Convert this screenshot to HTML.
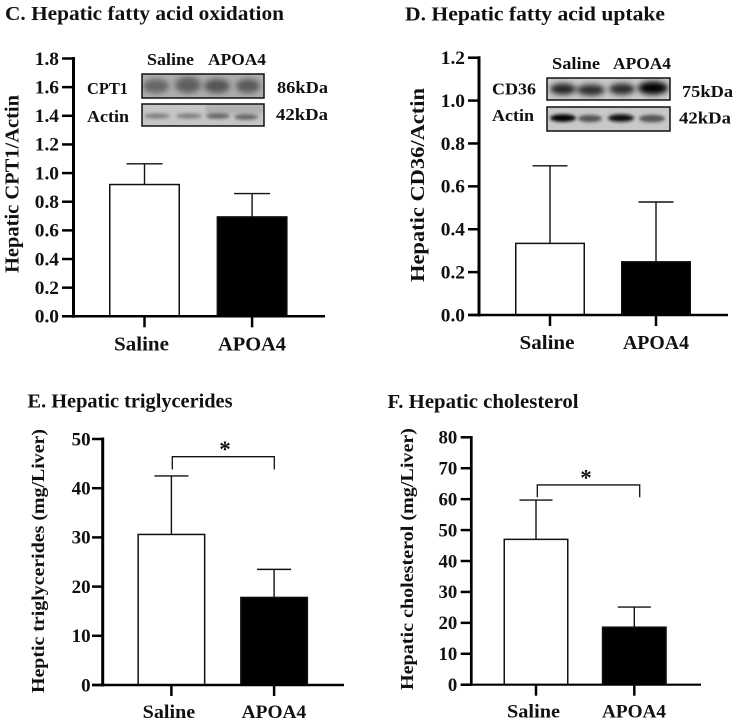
<!DOCTYPE html>
<html lang="en">
<head>
<meta charset="utf-8">
<title>Hepatic measurements, Saline vs APOA4</title>
<style>
html,body{margin:0;padding:0;background:#fff;}
svg{display:block;}
text{font-family:"Liberation Serif",serif;font-weight:bold;fill:#111;}
.title{font-size:19.5px;}
.small{font-size:16.5px;}
</style>
</head>
<body>
<svg id="figure" xmlns="http://www.w3.org/2000/svg" width="737" height="725" viewBox="0 0 737 725">
<defs>
<filter id="blurWide" x="-40%" y="-80%" width="180%" height="260%"><feGaussianBlur stdDeviation="3"/></filter>
<filter id="blurThin" x="-40%" y="-150%" width="180%" height="400%"><feGaussianBlur stdDeviation="1.6"/></filter>
<clipPath id="clipC1"><rect x="142" y="74" width="122" height="24"/></clipPath>
<clipPath id="clipC2"><rect x="142" y="104" width="122" height="22"/></clipPath>
<clipPath id="clipD1"><rect x="547" y="78" width="123" height="22"/></clipPath>
<clipPath id="clipD2"><rect x="547" y="107" width="123" height="24"/></clipPath>
</defs>
<rect x="0" y="0" width="737" height="725" fill="#fff"/>

<text class="title" x="5" y="20" textLength="279" lengthAdjust="spacingAndGlyphs">C. Hepatic fatty acid oxidation</text>
<text class="title" x="405" y="20.5" textLength="260" lengthAdjust="spacingAndGlyphs">D. Hepatic fatty acid uptake</text>
<text class="title" x="27.5" y="407.5" textLength="205" lengthAdjust="spacingAndGlyphs">E. Hepatic triglycerides</text>
<text class="title" x="387.5" y="408" textLength="191" lengthAdjust="spacingAndGlyphs">F. Hepatic cholesterol</text>

<!-- Panel C blot -->
<g>
<text class="small" x="147" y="65" textLength="47" lengthAdjust="spacingAndGlyphs">Saline</text>
<text class="small" x="208" y="65" textLength="58" lengthAdjust="spacingAndGlyphs">APOA4</text>
<text class="small" x="87" y="94" textLength="41" lengthAdjust="spacingAndGlyphs">CPT1</text>
<text class="small" x="87" y="122" textLength="42" lengthAdjust="spacingAndGlyphs">Actin</text>
<text class="small" x="277" y="93" textLength="51" lengthAdjust="spacingAndGlyphs">86kDa</text>
<text class="small" x="276" y="120" textLength="52" lengthAdjust="spacingAndGlyphs">42kDa</text>
<g clip-path="url(#clipC1)">
<rect x="142" y="74" width="122" height="24" fill="#adadad"/>
<g filter="url(#blurWide)">
<ellipse cx="156" cy="86" rx="13" ry="7" fill="#666"/><ellipse cx="188" cy="85" rx="13" ry="8" fill="#5e5e5e"/><ellipse cx="217" cy="86" rx="13" ry="7" fill="#555"/><ellipse cx="248" cy="86" rx="12" ry="7" fill="#5a5a5a"/>
</g>
</g>
<rect x="142" y="74" width="122" height="24" fill="none" stroke="#111" stroke-width="1.5"/>
<g clip-path="url(#clipC2)">
<rect x="142" y="104" width="122" height="22" fill="#c6c6c6"/>
<rect x="206" y="104" width="58" height="10" fill="#b0b0b0" filter="url(#blurThin)"/>
<g filter="url(#blurThin)">
<ellipse cx="157" cy="116" rx="13" ry="2.6" fill="#808080"/><ellipse cx="189" cy="116" rx="13" ry="2.6" fill="#808080"/><ellipse cx="218" cy="116" rx="12" ry="2.8" fill="#666"/><ellipse cx="246" cy="117" rx="12" ry="2.8" fill="#666"/>
</g>
</g>
<rect x="142" y="104" width="122" height="22" fill="none" stroke="#111" stroke-width="1.5"/>
</g>

<!-- Panel D blot -->
<g>
<text class="small" x="552" y="69" textLength="48" lengthAdjust="spacingAndGlyphs">Saline</text>
<text class="small" x="613" y="69" textLength="58" lengthAdjust="spacingAndGlyphs">APOA4</text>
<text class="small" x="492" y="94.5" textLength="44" lengthAdjust="spacingAndGlyphs">CD36</text>
<text class="small" x="492" y="121" textLength="42" lengthAdjust="spacingAndGlyphs">Actin</text>
<text class="small" x="682" y="97" textLength="51" lengthAdjust="spacingAndGlyphs">75kDa</text>
<text class="small" x="679" y="123.5" textLength="52" lengthAdjust="spacingAndGlyphs">42kDa</text>
<g clip-path="url(#clipD1)">
<rect x="547" y="78" width="123" height="22" fill="#cacaca"/>
<g filter="url(#blurWide)">
<ellipse cx="563" cy="89" rx="13" ry="5.5" fill="#222"/><ellipse cx="591" cy="90" rx="14" ry="5.5" fill="#2a2a2a"/><ellipse cx="622" cy="89" rx="13" ry="5.5" fill="#262626"/><ellipse cx="653" cy="88" rx="15" ry="6.5" fill="#000"/>
</g>
</g>
<rect x="547" y="78" width="123" height="22" fill="none" stroke="#111" stroke-width="1.5"/>
<g clip-path="url(#clipD2)">
<rect x="547" y="107" width="123" height="24" fill="#c8c8c8"/>
<g filter="url(#blurThin)">
<ellipse cx="563" cy="118" rx="13" ry="3.8" fill="#000"/><ellipse cx="590" cy="118.5" rx="12" ry="3.6" fill="#555"/><ellipse cx="621" cy="118" rx="13" ry="3.8" fill="#111"/><ellipse cx="652" cy="118.5" rx="13" ry="3.8" fill="#555"/>
</g>
</g>
<rect x="547" y="107" width="123" height="24" fill="none" stroke="#111" stroke-width="1.5"/>
</g>

<g id="charts"></g>
</svg>

<script>
// Shared category labels
const categories = ['Saline', 'APOA4'];

// Panel C: hepatic CPT1/Actin
const cTicks = [0, 0.2, 0.4, 0.6, 0.8, 1.0, 1.2, 1.4, 1.6, 1.8];
const cTickLabels = ['0.0', '0.2', '0.4', '0.6', '0.8', '1.0', '1.2', '1.4', '1.6', '1.8'];
const cMeans = [0.92, 0.694];
const cErrors = [0.145, 0.163];

// Panel D: hepatic CD36/Actin
const dTicks = [0, 0.2, 0.4, 0.6, 0.8, 1.0, 1.2];
const dTickLabels = ['0.0', '0.2', '0.4', '0.6', '0.8', '1.0', '1.2'];
const dMeans = [0.334, 0.248];
const dErrors = [0.362, 0.279];

// Panel E: hepatic triglycerides
const eTicks = [0, 10, 20, 30, 40, 50];
const eTickLabels = ['0', '10', '20', '30', '40', '50'];
const eMeans = [30.6, 17.8];
const eErrors = [11.9, 5.7];
const eBracket = [46.4, 43.8];

// Panel F: hepatic cholesterol
const fTicks = [0, 10, 20, 30, 40, 50, 60, 70, 80];
const fTickLabels = ['0', '10', '20', '30', '40', '50', '60', '70', '80'];
const fMeans = [47, 18.6];
const fErrors = [12.7, 6.5];
const fBracket = [64.6, 60.6];

const SVG_NS = 'http://www.w3.org/2000/svg';

function make(parent, tag, attrs, txt) {
  const el = document.createElementNS(SVG_NS, tag);
  for (const k in attrs) el.setAttribute(k, attrs[k]);
  if (txt !== undefined) el.textContent = txt;
  parent.appendChild(el);
  return el;
}

function drawPanel(cfg) {
  const root = document.getElementById('charts');
  const g = make(root, 'g', {});
  
  

  const maxV = cfg.ticks[cfg.ticks.length - 1];
  const yScale = v => cfg.y0 - (v / maxV) * (cfg.y0 - cfg.yTop);
  const xScale = i => cfg.x0 + i * cfg.step;

  // bars and error bars
  cfg.means.forEach((m, i) => {
    const cx = xScale(i);
    const top = yScale(m);
    const errTop = yScale(m + cfg.errors[i]);
    const dark = i === 1;

    const stem = make(g, 'line', {x1: cx, x2: cx, y1: top, y2: errTop, stroke: '#111', 'stroke-width': 1.4});
    
    

    const cap = make(g, 'line', {x1: cx - cfg.capHalf, x2: cx + cfg.capHalf, y1: errTop, y2: errTop, stroke: '#111', 'stroke-width': 1.4});
    
    

    const bar = make(g, 'rect', {
      x: cx - cfg.barW / 2 + 0.75, y: top, width: cfg.barW - 1.5, height: cfg.y0 - top,
      fill: dark ? '#000' : '#fff', stroke: '#111', 'stroke-width': 1.5
    });
    
    
  });

  // y axis
  const yAxis = make(g, 'line', {x1: cfg.axisX, x2: cfg.axisX, y1: cfg.yTop - cfg.axisW / 2, y2: cfg.y0 + cfg.axisW / 2, stroke: '#000', 'stroke-width': cfg.axisW});
  
  

  // x axis
  const xAxis = make(g, 'line', {x1: cfg.tickLeft, x2: cfg.xEnd, y1: cfg.y0, y2: cfg.y0, stroke: '#000', 'stroke-width': cfg.axisW - 0.5});
  
  

  // y ticks
  cfg.ticks.forEach((t, i) => {
    const y = yScale(t);
    const tick = make(g, 'line', {x1: cfg.tickLeft, x2: cfg.axisX, y1: y, y2: y, stroke: '#000', 'stroke-width': 2.5});
    
    

    const label = cfg.tickLabels[i];
    const digits = label.replace('.', '').length;
    const len = digits * cfg.digitW + (label.indexOf('.') >= 0 ? cfg.digitW * 0.55 : 0);
    const lab = make(g, 'text', {
      x: cfg.labelRight, y: y + 6.3, 'text-anchor': 'end', 'font-size': cfg.tickFont,
      textLength: len, lengthAdjust: 'spacingAndGlyphs'
    }, label);
    
    
  });

  // x ticks and labels
  categories.forEach((c, i) => {
    const cx = xScale(i);
    const tick = make(g, 'line', {x1: cx, x2: cx, y1: cfg.y0, y2: cfg.y0 + 11, stroke: '#000', 'stroke-width': 2.5});
    
    

    const lab = make(g, 'text', {
      x: cfg.catX[i], y: cfg.catY, 'font-size': cfg.catFont,
      textLength: cfg.catW[i], lengthAdjust: 'spacingAndGlyphs'
    }, c);
    
    
  });

  // y title
  const title = make(g, 'text', {
    transform: 'translate(' + cfg.yTitleX + ',' + cfg.yTitleBottom + ') rotate(-90)',
    'font-size': cfg.yTitleFont, textLength: cfg.yTitleLen, lengthAdjust: 'spacingAndGlyphs'
  }, cfg.yTitle);
  
  

  // significance bracket
  if (cfg.bracket) {
    const by = yScale(cfg.bracket[0]);
    const fy = yScale(cfg.bracket[1]);
    const bx = cfg.bracketX;
    const br = make(g, 'path', {
      d: 'M' + bx[0] + ' ' + fy + 'V' + by + 'H' + bx[1] + 'V' + fy,
      fill: 'none', stroke: '#111', 'stroke-width': 1.3
    });
    
    

    const star = make(g, 'text', {x: cfg.starX, y: by + 0.5, 'text-anchor': 'middle', 'font-size': 23}, '*');
    
    
  }
}

drawPanel({
  id: 'c', ticks: cTicks, tickLabels: cTickLabels, means: cMeans, errors: cErrors,
  y0: 316.3, yTop: 58.5, axisX: 73.5, axisW: 3, tickLeft: 62, xEnd: 325,
  x0: 144.5, step: 107.6, barW: 71, capHalf: 18,
  labelRight: 59, digitW: 9.5, tickFont: 19,
  catX: [114, 218], catY: 350.5, catW: [55, 68], catFont: 19.5,
  yTitle: 'Hepatic CPT1/Actin', yTitleX: 18.5, yTitleBottom: 273, yTitleLen: 178, yTitleFont: 19.5
});

drawPanel({
  id: 'd', ticks: dTicks, tickLabels: dTickLabels, means: dMeans, errors: dErrors,
  y0: 315, yTop: 57.7, axisX: 479, axisW: 3, tickLeft: 468, xEnd: 728,
  x0: 550, step: 106, barW: 70, capHalf: 17.5,
  labelRight: 465, digitW: 9.5, tickFont: 19,
  catX: [519.5, 623], catY: 349, catW: [55, 66], catFont: 19.5,
  yTitle: 'Hepatic CD36/Actin', yTitleX: 424, yTitleBottom: 282, yTitleLen: 194, yTitleFont: 20
});

drawPanel({
  id: 'e', ticks: eTicks, tickLabels: eTickLabels, means: eMeans, errors: eErrors, bracket: eBracket,
  y0: 685, yTop: 439, axisX: 102.7, axisW: 3, tickLeft: 92, xEnd: 344,
  x0: 171.4, step: 102.7, barW: 68, capHalf: 17,
  labelRight: 90.7, digitW: 9.5, tickFont: 18.5,
  catX: [142.7, 241.7], catY: 718, catW: [52.5, 64.5], catFont: 18.5,
  bracketX: [172.3, 274.3], starX: 225,
  yTitle: 'Heptic triglycerides (mg/Liver)', yTitleX: 44, yTitleBottom: 693, yTitleLen: 264, yTitleFont: 18
});

drawPanel({
  id: 'f', ticks: fTicks, tickLabels: fTickLabels, means: fMeans, errors: fErrors, bracket: fBracket,
  y0: 684.7, yTop: 437.3, axisX: 471.3, axisW: 2.7, tickLeft: 460.7, xEnd: 701,
  x0: 536, step: 98.3, barW: 65, capHalf: 16.5,
  labelRight: 457.3, digitW: 9.4, tickFont: 18.5,
  catX: [507, 602], catY: 717.7, catW: [53, 64], catFont: 18.5,
  bracketX: [537.3, 639.7], starX: 586,
  yTitle: 'Hepatic cholesterol (mg/Liver)', yTitleX: 413, yTitleBottom: 690, yTitleLen: 262, yTitleFont: 18
});
</script>
</body>
</html>
